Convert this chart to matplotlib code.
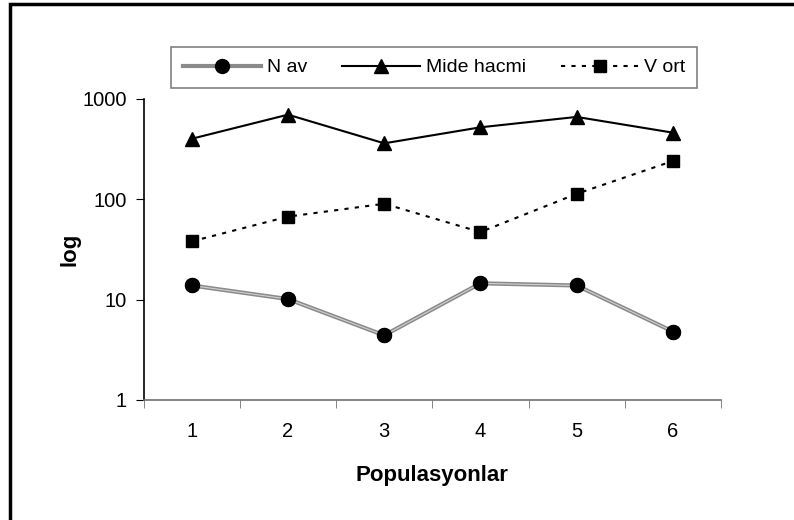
import matplotlib
matplotlib.use("Agg")
from matplotlib import pyplot as plt
from matplotlib.patches import Rectangle

plt.rcParams['font.family'] = ['Liberation Sans', 'DejaVu Sans']

populasyon = [1, 2, 3, 4, 5, 6]
n_av = [13.8, 10.1, 4.4, 14.5, 13.8, 4.8]
mide_hacmi = [400, 695, 360, 520, 660, 460]
v_ort = [38, 67, 90, 47, 113, 240]

fig = plt.figure(figsize=(7.94, 5.2), dpi=100)
ax = fig.add_axes([0.181, 0.231, 0.727, 0.579])

# N av: grey double-ish line
ax.plot(populasyon, n_av, color='#8a8a8a', linewidth=3, marker='o',
        markersize=10, markerfacecolor='black', markeredgecolor='black',
        label='N av', zorder=3)
ax.plot(populasyon, n_av, color='#d0d0d0', linewidth=0.8, zorder=3.5)
ax.plot(populasyon, n_av, linestyle='none', marker='o', markersize=10,
        color='black', zorder=4)

ax.plot(populasyon, mide_hacmi, color='black', linewidth=1.5, marker='^',
        markersize=10, label='Mide hacmi', zorder=3)
ax.plot(populasyon, v_ort, color='black', linewidth=1.5,
        linestyle=(0, (2, 3)), marker='s', markersize=8,
        label='V ort', zorder=3)

ax.set_yscale('log')
ax.set_ylim(1, 1000)
ax.set_xlim(0.5, 6.5)
ax.set_yticks([1, 10, 100, 1000])
ax.set_yticklabels(['1', '10', '100', '1000'])
ax.yaxis.set_minor_locator(matplotlib.ticker.NullLocator())
ax.set_xticks(populasyon)
ax.set_xticklabels([str(p) for p in populasyon])
ax.set_xticks([0.5, 1.5, 2.5, 3.5, 4.5, 5.5, 6.5], minor=True)
ax.tick_params(axis='x', which='major', length=0, labelsize=14.5, pad=16)
ax.tick_params(axis='x', which='minor', length=6, color='#707070',
               direction='out')
ax.tick_params(axis='y', which='major', length=6, labelsize=14.5,
               direction='out', pad=6)

ax.spines['top'].set_visible(False)
ax.spines['right'].set_visible(False)
ax.spines['bottom'].set_color('#707070')
ax.spines['bottom'].set_linewidth(1.2)
ax.spines['left'].set_linewidth(1.2)

ax.set_xlabel('Populasyonlar', fontsize=16, fontweight='bold')
ax.set_ylabel('log', fontsize=16, fontweight='bold')
ax.xaxis.set_label_coords(0.5, -0.215)
ax.yaxis.set_label_coords(-0.11, 0.5)

leg = ax.legend(loc='center', bbox_to_anchor=(0.547, 0.870),
                bbox_transform=fig.transFigure, ncol=3, fontsize=14,
                frameon=True, fancybox=False, handlelength=4,
                columnspacing=1.8, handletextpad=0.3, borderpad=0.6,
                borderaxespad=0)
leg.get_frame().set_edgecolor('#606060')
leg.get_frame().set_linewidth(1.2)

fig.add_artist(Rectangle((0.0126, -0.1), 1.2, 1.092, transform=fig.transFigure,
                         fill=False, edgecolor='black', linewidth=2.5))

fig.savefig('out.png', dpi=100)
